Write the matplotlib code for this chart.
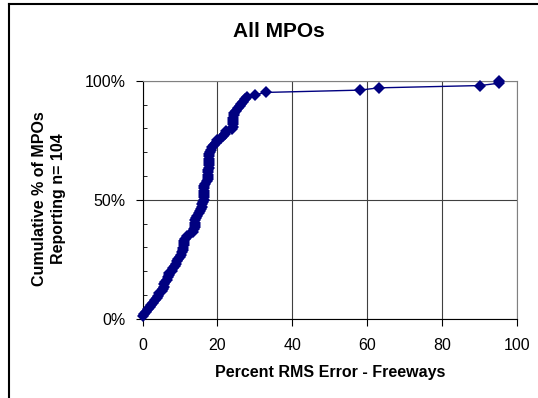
import numpy as np
import matplotlib
matplotlib.use("Agg")
import matplotlib.pyplot as plt
from matplotlib.ticker import PercentFormatter, MultipleLocator
from matplotlib.lines import Line2D

plt.rcParams['font.family'] = ['Liberation Sans', 'DejaVu Sans']

# percent RMS error (freeways) reported by each MPO, sorted, n = 104
rms_error = [
    0.0, 0.5, 1.0, 1.5, 2.0, 2.3, 2.8, 3.2, 3.8, 4.2,
    4.5, 5.2, 5.5, 5.6, 5.8, 6.0, 6.5, 6.8, 7.0, 7.2,
    7.8, 8.2, 8.6, 8.9, 9.2, 9.6, 10.0, 10.3, 10.5, 10.7,
    10.9, 11.0, 11.1, 11.2, 11.4, 12.0, 12.8, 13.5, 13.8, 13.9,
    14.0, 14.0, 14.1, 14.2, 14.6, 15.0, 15.3, 15.6, 15.8, 16.0,
    16.2, 16.3, 16.3, 16.3, 16.3, 16.3, 16.4, 16.5, 16.8, 17.2,
    17.5, 17.6, 17.6, 17.6, 17.6, 17.7, 17.7, 17.7, 17.7, 17.8,
    17.8, 17.8, 18.0, 18.3, 18.6, 19.0, 19.5, 20.0, 21.0, 21.5,
    22.0, 22.2, 24.0, 24.1, 24.1, 24.1, 24.2, 24.2, 24.3, 24.5,
    25.0, 25.5, 26.0, 26.3, 26.8, 27.3, 28.0, 30.0, 33.0, 58.0,
    63.0, 90.0, 95.0, 95.0,
]
x_ticks = [0, 20, 40, 60, 80, 100]
y_ticks = [0, 50, 100]

n = len(rms_error)
cum_pct = np.arange(1, n + 1) / n * 100

fig = plt.figure(figsize=(5.38, 3.98), dpi=100)
ax = fig.add_axes([0.2649, 0.1997, 0.9615 - 0.2649, 0.7965 - 0.1997])

ax.plot(rms_error, cum_pct, color='#000080', lw=1.0, marker='D',
        markersize=6, markeredgewidth=0, zorder=3, clip_on=False)

ax.set_xlim(0, 100)
ax.set_ylim(0, 100)
ax.set_xticks(x_ticks)
ax.set_yticks(y_ticks)
ax.yaxis.set_minor_locator(MultipleLocator(10))
ax.yaxis.set_major_formatter(PercentFormatter(100, decimals=0))

ax.grid(True, which='major', color='#404040', lw=0.8, zorder=0)
for s in ['top', 'right']:
    ax.spines[s].set_color('#808080')
for s in ['left', 'bottom']:
    ax.spines[s].set_color('black')
ax.tick_params(axis='both', which='major', direction='out', length=5,
               labelsize=11.5)
ax.tick_params(axis='x', which='major', pad=9)
ax.tick_params(axis='y', which='major', pad=7)
ax.tick_params(axis='y', which='minor', direction='in', length=3)

ax.set_xlabel('Percent RMS Error - Freeways', fontsize=11.5,
              fontweight='bold', labelpad=9)
fig.text(0.091, 0.5, 'Cumulative % of MPOs\nReporting n= 104', rotation=90,
         ha='center', va='center', fontsize=11.5, fontweight='bold',
         linespacing=1.35)
fig.text(0.519, 0.920, 'All MPOs', ha='center', va='center',
         fontsize=15, fontweight='bold')

# outer frame (left and top only visible)
fig.add_artist(Line2D([9 / 538, 9 / 538], [0, 1 - 4 / 398],
                      transform=fig.transFigure, color='black', lw=1.5))
fig.add_artist(Line2D([9 / 538, 1], [1 - 4 / 398, 1 - 4 / 398],
                      transform=fig.transFigure, color='black', lw=1.5))

fig.savefig('out.png', dpi=100)
